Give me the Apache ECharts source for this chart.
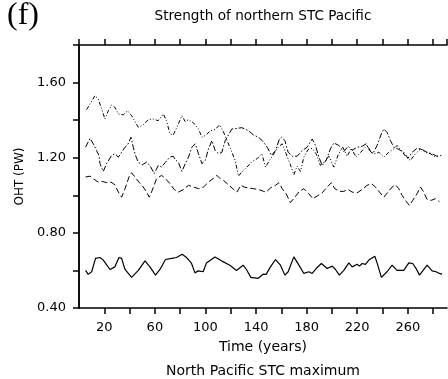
<!DOCTYPE html>
<html>
<head>
<meta charset="utf-8">
<script src="https://cdn.jsdelivr.net/npm/echarts@6/dist/echarts.min.js"></script>
<style>html,body{margin:0;padding:0;background:#fff;}#c{width:448px;height:379px;}</style>
</head>
<body>
<div id="c"></div>
<script>
// ---- data ----
var xTickLabels = [20, 60, 100, 140, 180, 220, 260];
var yTickLabels = [0.40, 0.80, 1.20, 1.60];

var yearsS = [5.2,7.3,10.0,13.1,16.6,19.2,24.5,28.4,31.6,33.7,36.4,41.6,46.9,52.2,56.1,60.5,64.0,68.4,73.2,77.1,81.6,85.0,89.0,91.7,94.3,98.2,100.8,107.5,112.7,119.3,124.5,129.8,132.4,135.9,141.7,145.6,148.0,151.4,155.4,159.3,162.8,165.4,169.9,173.9,177.8,181.8,184.4,187.5,191.7,196.2,200.2,202.8,205.9,209.4,213.4,216.0,219.9,221.7,223.9,226.5,229.2,233.9,235.7,239.1,243.6,247.6,251.5,256.8,260.8,263.9,266.6,269.2,271.8,275.3,279.2,282.4,285.0,287.1];
var valsS = [0.600,0.579,0.593,0.664,0.669,0.655,0.605,0.619,0.669,0.664,0.605,0.563,0.600,0.651,0.619,0.575,0.605,0.658,0.664,0.669,0.686,0.669,0.637,0.587,0.598,0.593,0.640,0.672,0.651,0.628,0.600,0.628,0.605,0.563,0.558,0.580,0.579,0.619,0.658,0.628,0.575,0.593,0.672,0.628,0.584,0.593,0.584,0.610,0.637,0.610,0.623,0.605,0.575,0.600,0.640,0.619,0.633,0.623,0.637,0.632,0.655,0.676,0.640,0.563,0.593,0.628,0.600,0.600,0.640,0.637,0.610,0.575,0.598,0.628,0.598,0.593,0.584,0.580];

var yearsA = [6.0,8.7,12.6,15.3,17.9,20.5,23.2,25.8,28.4,31.1,35.0,38.4,41.6,46.9,50.8,54.8,58.7,62.7,66.6,69.2,71.9,74.5,77.4,81.4,84.0,86.6,90.6,94.5,97.2,100.6,103.8,107.7,111.1,113.8,116.4,120.9,123.5,126.1,128.8,132.8,137.0,140.9,144.6,147.5,150.6,154.1,157.5,160.7,163.8,167.2,169.9,172.5,175.1,177.8,181.2,184.4,187.5,190.9,194.4,197.6,201.5,204.9,208.6,212.0,215.4,219.1,221.7,225.2,227.8,231.2,234.4,237.1,241.0,245.0,248.9,251.5,254.9,258.1,262.0,266.0,270.0,273.9,277.9,281.8,285.0];
var valsA = [1.456,1.486,1.530,1.512,1.459,1.406,1.450,1.480,1.468,1.433,1.428,1.450,1.424,1.362,1.375,1.403,1.406,1.397,1.433,1.397,1.327,1.321,1.362,1.424,1.392,1.403,1.385,1.353,1.309,1.321,1.344,1.350,1.375,1.344,1.303,1.229,1.185,1.102,1.125,1.150,1.180,1.195,1.221,1.150,1.185,1.221,1.256,1.274,1.221,1.162,1.109,1.155,1.127,1.203,1.244,1.250,1.221,1.159,1.180,1.208,1.150,1.215,1.256,1.208,1.250,1.203,1.221,1.247,1.265,1.229,1.221,1.229,1.203,1.229,1.247,1.265,1.238,1.208,1.185,1.221,1.247,1.229,1.221,1.203,1.212];

var yearsB = [5.2,8.7,11.3,13.9,15.8,16.6,19.2,21.8,25.8,28.4,31.1,33.7,36.4,38.4,41.1,42.9,44.7,46.9,50.0,53.4,56.1,59.5,62.7,65.3,68.4,71.9,74.5,76.1,78.7,81.4,84.0,86.6,89.3,91.9,94.5,97.2,99.8,102.4,105.1,107.7,110.3,113.0,115.6,120.9,124.9,128.8,134.0,138.0,141.9,144.9,148.8,152.2,155.4,158.5,160.1,162.8,165.4,168.6,172.5,176.5,180.4,184.4,187.0,189.7,192.3,195.4,198.8,201.5,205.5,209.4,212.8,216.0,219.9,223.9,227.1,229.7,232.3,235.7,239.1,241.0,243.6,246.3,248.9,252.9,256.8,260.2,263.4,267.3,271.3,275.2,279.2,283.1,286.5];
var valsB = [1.256,1.303,1.274,1.238,1.212,1.168,1.127,1.168,1.212,1.221,1.203,1.229,1.256,1.268,1.309,1.256,1.212,1.176,1.162,1.176,1.159,1.115,1.159,1.150,1.176,1.203,1.208,1.190,1.173,1.127,1.168,1.203,1.256,1.274,1.221,1.168,1.185,1.247,1.291,1.238,1.221,1.229,1.291,1.353,1.356,1.360,1.344,1.321,1.309,1.291,1.256,1.212,1.238,1.300,1.309,1.291,1.229,1.208,1.208,1.238,1.256,1.300,1.265,1.203,1.159,1.185,1.247,1.279,1.265,1.233,1.261,1.240,1.256,1.261,1.274,1.238,1.221,1.265,1.327,1.353,1.335,1.291,1.256,1.244,1.229,1.197,1.229,1.250,1.244,1.229,1.221,1.208,1.212];

var yearsC = [5.2,8.7,11.3,15.3,18.4,21.8,25.3,28.4,31.1,33.7,36.4,39.5,41.6,44.3,47.4,50.8,53.4,55.6,57.9,61.3,65.3,68.4,71.9,75.3,78.7,82.7,86.6,90.6,94.5,98.5,102.4,106.4,109.1,111.7,114.3,118.2,122.2,124.9,128.0,130.6,134.0,138.0,141.9,145.9,148.0,151.4,155.4,158.1,160.7,163.8,167.2,170.7,174.3,177.8,181.8,184.9,188.3,192.3,196.2,199.6,202.3,205.9,209.4,212.8,216.0,219.9,223.9,227.8,231.2,234.4,237.6,241.0,244.4,247.6,250.2,252.9,255.5,258.1,261.3,263.9,267.3,270.0,272.6,275.2,278.6,281.8,285.0];
var valsC = [1.097,1.102,1.088,1.070,1.074,1.067,1.070,1.056,1.017,0.990,1.035,1.097,1.120,1.097,1.070,1.044,1.017,0.990,1.026,1.088,1.106,1.088,1.062,1.031,1.017,1.031,1.053,1.044,1.035,1.044,1.070,1.091,1.106,1.088,1.079,1.056,1.031,1.017,1.053,1.044,1.039,1.035,1.031,1.021,1.017,1.039,1.053,1.067,1.035,1.008,0.961,0.990,1.021,1.035,1.008,0.982,0.996,1.013,1.044,1.067,1.035,1.021,1.021,1.031,1.017,1.013,1.031,1.053,1.062,1.044,1.017,0.990,1.017,1.044,1.056,1.035,1.000,0.973,0.946,0.973,1.008,1.044,1.017,0.978,0.973,0.982,0.966];

function pairs(xs, ys) { return xs.map(function (x, i) { return [x, ys[i]]; }); }

var FONT = 'DejaVu Sans';
var chart = echarts.init(document.getElementById('c'), null, { renderer: 'canvas' });

var axisLine = { show: true, lineStyle: { color: '#000', width: 1.5 } };
var axisTick = { show: true, inside: false, length: 6, lineStyle: { color: '#000', width: 1.5 } };

function lineSeries(xs, ys, dash, w) {
  return {
    type: 'line', data: pairs(xs, ys), showSymbol: false, symbol: 'none',
    smooth: false, silent: true, animation: false,
    lineStyle: { color: '#000', width: w, type: dash }
  };
}

chart.setOption({
  animation: false,
  backgroundColor: '#fff',
  grid: { left: 79, right: 1, top: 45, bottom: 71, containLabel: false },
  xAxis: [{
    type: 'value', position: 'bottom', min: 0, max: 291, interval: 20,
    axisLine: axisLine, axisTick: axisTick, splitLine: { show: false },
    axisLabel: {
      show: true, margin: 13, color: '#000', fontFamily: FONT, fontSize: 13,
      showMinLabel: false, showMaxLabel: false,
      formatter: function (v) { return xTickLabels.indexOf(Math.round(v)) >= 0 ? String(Math.round(v)) : ''; }
    },
    name: 'Time (years)', nameLocation: 'middle', nameGap: 32,
    nameTextStyle: { color: '#000', fontFamily: FONT, fontSize: 14 }
  }, {
    type: 'value', position: 'top', min: 0, max: 291, interval: 20,
    axisLine: axisLine, axisTick: axisTick, splitLine: { show: false },
    axisLabel: { show: false }
  }],
  yAxis: [{
    type: 'value', position: 'left', min: 0.4, max: 1.8, interval: 0.2,
    axisLine: axisLine, axisTick: axisTick, splitLine: { show: false },
    axisLabel: {
      show: true, margin: 13, color: '#000', fontFamily: FONT, fontSize: 13,
      formatter: function (v) {
        var r = Math.round(v * 100);
        for (var i = 0; i < yTickLabels.length; i++) {
          if (Math.round(yTickLabels[i] * 100) === r) return yTickLabels[i].toFixed(2);
        }
        return '';
      }
    },
    name: 'OHT (PW)', nameLocation: 'middle', nameGap: 51, nameRotate: 90,
    nameTextStyle: { color: '#000', fontFamily: FONT, fontSize: 12 }
  }, {
    type: 'value', position: 'right', min: 0.4, max: 1.8, interval: 0.2,
    axisLine: axisLine, axisTick: { show: false }, splitLine: { show: false },
    axisLabel: { show: false }
  }],
  series: [
    lineSeries(yearsA, valsA, [4, 2, 1, 2, 1, 2], 1),
    lineSeries(yearsB, valsB, [6, 2, 1.5, 2], 1),
    lineSeries(yearsC, valsC, [6, 3], 1),
    lineSeries(yearsS, valsS, 'solid', 1.2)
  ],
  graphic: [
    { type: 'text', left: 7, top: 0, style: { text: '(f)', font: '32px "Liberation Serif", serif', fill: '#000' } },
    { type: 'text', x: 263, y: 16, style: { text: 'Strength of northern STC Pacific', font: '13.6px "DejaVu Sans"', fill: '#000', align: 'center', verticalAlign: 'middle' } },
    { type: 'text', x: 263, y: 371, style: { text: 'North Pacific STC maximum', font: '14px "DejaVu Sans"', fill: '#000', align: 'center', verticalAlign: 'middle' } }
  ]
});
</script>
</body>
</html>
